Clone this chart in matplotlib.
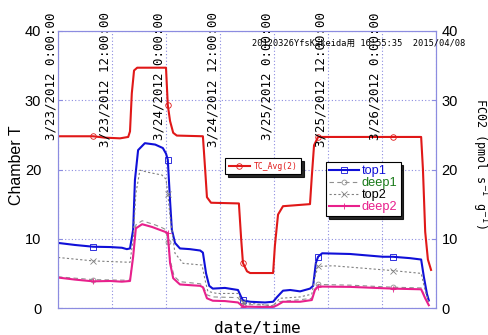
import matplotlib
matplotlib.use("Agg")
import matplotlib.pyplot as plt
import matplotlib.transforms as mtransforms
import numpy as np
import pandas as pd

# hours after 3/23/2012 0:00 and readings for each channel
tc_h = [0, 7.8, 10.4, 13.8, 15.6, 16.0, 16.4, 16.9, 17.6, 24.0, 24.4, 24.9, 25.6, 26.4,
        32.2, 32.7, 33.1, 34.0, 40.2, 40.7, 41.1, 42.0, 42.7, 47.8, 48.2, 48.9, 50.0,
        56.0, 56.4, 56.9, 57.8, 74.4, 80.7, 81.1, 81.6, 82.2, 82.9]
tc_avg = [24.8, 24.8, 24.6, 24.5, 24.7, 25.5, 31.0, 34.3, 34.7, 34.7, 29.3, 27.0, 25.3, 24.9,
          24.8, 20.0, 16.0, 15.2, 15.1, 10.0, 6.5, 5.3, 5.05, 5.05, 9.0, 13.5, 14.7,
          15.0, 19.0, 23.5, 24.7, 24.7, 24.7, 20.0, 11.0, 7.0, 5.5]

top1_h = [0, 3.8, 7.8, 11.6, 14.2, 15.3, 16.0, 16.7, 17.1, 17.8, 19.3, 21.6, 23.3, 24.0,
          24.4, 24.9, 25.3, 26.0, 27.1, 29.3, 31.6, 32.2, 32.9, 33.6, 34.4, 37.1, 40.0,
          40.7, 41.1, 42.7, 46.0, 47.8, 48.7, 50.0, 51.6, 53.8, 56.0, 56.7, 57.3, 57.8,
          58.7, 64.9, 72.2, 74.4, 78.2, 80.7, 81.3, 82.0, 82.4]
top1 = [9.4, 9.1, 8.85, 8.8, 8.7, 8.5, 8.6, 11.3, 18.5, 22.8, 23.8, 23.6, 23.1, 22.3,
        21.4, 15.5, 11.3, 9.4, 8.6, 8.5, 8.3, 8.0, 5.0, 3.2, 2.8, 2.9, 2.6,
        1.6, 1.1, 0.9, 0.8, 0.9, 1.6, 2.5, 2.6, 2.4, 2.8, 3.2, 6.5, 7.4,
        7.9, 7.8, 7.4, 7.4, 7.2, 7.0, 4.5, 2.0, 1.1]

deep1_h = [0, 7.8, 16.0, 16.7, 17.3, 18.7, 21.6, 23.1, 24.0, 24.4, 24.9, 25.8, 27.1, 31.6,
           32.2, 33.1, 34.4, 40.0, 41.1, 47.8, 48.9, 53.8, 56.4, 57.1, 57.8, 64.9, 74.4,
           80.7, 81.6, 82.4]
deep1 = [4.5, 4.1, 4.0, 7.8, 12.0, 12.6, 12.0, 11.6, 11.3, 9.5, 7.0, 4.6, 3.8, 3.5,
         3.2, 1.9, 1.6, 1.5, 0.5, 0.4, 0.9, 1.2, 1.4, 2.9, 3.4, 3.3, 3.0,
         2.9, 1.5, 0.5]

top2_h = [0, 7.8, 16.0, 16.7, 17.3, 18.2, 20.0, 23.1, 24.0, 24.4, 24.9, 26.0, 27.8, 32.0,
          32.7, 33.3, 35.3, 40.0, 40.7, 41.1, 47.8, 49.3, 53.8, 56.4, 57.1, 57.8, 61.1,
          74.4, 80.7, 81.6, 82.4]
top2 = [7.3, 6.8, 6.6, 10.0, 16.5, 19.9, 19.6, 19.2, 18.6, 16.5, 13.2, 7.9, 6.45, 6.2,
        4.0, 2.4, 2.1, 2.1, 1.2, 0.8, 0.3, 1.4, 1.6, 2.0, 4.5, 6.0, 6.1,
        5.4, 5.0, 2.5, 0.9]

deep2_h = [0, 3.8, 7.8, 11.6, 14.2, 16.0, 16.7, 17.3, 18.7, 20.9, 23.8, 24.4, 24.9, 25.6,
           27.1, 31.6, 32.2, 33.1, 34.4, 37.1, 40.0, 41.1, 44.9, 47.8, 48.7, 50.0, 53.8,
           56.4, 57.1, 57.8, 64.9, 74.4, 80.7, 81.6, 82.4]
deep2 = [4.4, 4.1, 3.85, 3.9, 3.8, 3.9, 7.4, 11.5, 12.1, 11.7, 11.0, 10.8, 6.5, 4.3,
         3.4, 3.2, 3.0, 1.4, 1.05, 1.0, 0.8, 0.2, 0.15, 0.15, 0.4, 0.9, 0.9,
         1.15, 2.6, 3.1, 3.05, 2.8, 2.7, 1.4, 0.4]

mark_h = [7.8, 24.4, 41.1, 57.8, 74.4]
tick_hours = [0, 12, 24, 36, 48, 60, 72, 84]

start = pd.Timestamp("2012-03-23 00:00")


def to_time(hours):
    return start + pd.to_timedelta(np.asarray(hours, dtype=float), unit="h")


def marks(hours):
    hours = np.asarray(hours)
    return [i for i, h in enumerate(hours) if np.any(np.isclose(h, mark_h))]


frame_c = "#8c8ce0"
num_font = ["Liberation Sans Narrow", "Liberation Sans", "DejaVu Sans"]

fig = plt.figure(figsize=(4.89, 3.35), dpi=100)
ax = fig.add_axes([58 / 489, 1 - 308 / 335, 378 / 489, 277 / 335])
ax2 = ax.twinx()

l_tc, = ax.plot(to_time(tc_h), tc_avg, color="#e01818", lw=1.5, marker="o", ms=4,
                mfc="none", mew=0.6, markevery=marks(tc_h), label="TC_Avg(2)")
l1, = ax2.plot(to_time(top1_h), top1, color="#1010d8", lw=1.5, marker="s", ms=4,
               mfc="none", mew=0.6, markevery=marks(top1_h), label="top1")
l2, = ax2.plot(to_time(deep1_h), deep1, color="#909090", lw=0.8, ls=(0, (4, 3)), marker="o",
               ms=3.5, mfc="none", mew=0.6, markevery=marks(deep1_h), label="deep1")
l3, = ax2.plot(to_time(top2_h), top2, color="#808080", lw=0.8, ls=(0, (2, 2)), marker="x",
               ms=4, mew=0.6, markevery=marks(top2_h), label="top2")
l4, = ax2.plot(to_time(deep2_h), deep2, color="#e8208c", lw=1.5, marker="+", ms=4,
               mew=0.6, markevery=marks(deep2_h), label="deep2")

xmin, xmax = to_time([0, 84])
for a in (ax, ax2):
    a.set_xlim(xmin, xmax)
    a.set_ylim(0, 40)
    a.set_yticks([0, 10, 20, 30, 40])
    for s in a.spines.values():
        s.set_color(frame_c)
        s.set_linewidth(0.8)

ax.set_xticks(to_time(tick_hours))
ax.set_xticklabels([])
ax.tick_params(axis="x", length=0)
ax.grid(True, color=frame_c, ls=(0, (1, 2)), lw=0.8)
ax.tick_params(axis="y", direction="in", length=3, color=frame_c, pad=12, labelsize=10.5)
ax2.tick_params(axis="y", direction="in", length=3, color=frame_c, pad=4, labelsize=10.5)
for lab in ax.get_yticklabels() + ax2.get_yticklabels():
    lab.set_family(num_font)

# time labels printed along the top edge, reading upwards
trans = mtransforms.blended_transform_factory(ax.transData, fig.transFigure)
for h in tick_hours[:-1]:
    t = start + pd.Timedelta(hours=h)
    txt = f"{t.month}/{t.day}/{t.year} {t.hour}:00:00"
    ax.text(t, 1 - 12 / 335, txt, transform=trans, rotation=90, ha="right", va="top",
            family="DejaVu Sans Mono", fontsize=9, color="black", clip_on=False)

fig.text(252 / 489, 1 - 43 / 335, "20120326YfsKakeida用 16:55:35  2015/04/08",
         family=["DejaVu Sans Mono", "Noto Sans CJK JP"], fontsize=6.2, va="center")

fig.text(17 / 489, 1 - 165 / 335, "Chamber T", rotation=90, ha="center", va="center",
         family=num_font, fontsize=11.5)
fig.text(480 / 489, 1 - 163 / 335, "FC02 (pmol s$^{-1}$ g$^{-1}$)", rotation=270,
         ha="center", va="center", family="DejaVu Sans Mono", fontsize=8.5)
fig.text(257 / 489, 1 - 328 / 335, "date/time", ha="center", va="center",
         family="DejaVu Sans Mono", fontsize=11.5)

shadow = {"color": "black", "alpha": 0.85}
leg1 = ax2.legend(handles=[l_tc], loc="upper left", bbox_to_anchor=(225 / 489, 1 - 158 / 335),
                  bbox_transform=fig.transFigure, fancybox=False, shadow=shadow,
                  edgecolor="black", framealpha=1, handlelength=2.6, handletextpad=0.5,
                  borderpad=0.45, borderaxespad=0, prop={"family": "DejaVu Sans Mono", "size": 5.8})
leg1.get_frame().set_linewidth(0.8)
for t in leg1.get_texts():
    t.set_color("#e01818")
ax2.add_artist(leg1)

leg2 = ax2.legend(handles=[l1, l2, l3, l4], loc="upper left",
                  bbox_to_anchor=(326 / 489, 1 - 162 / 335), bbox_transform=fig.transFigure,
                  fancybox=False, shadow=shadow, edgecolor="black", framealpha=1,
                  handlelength=2.3, handletextpad=0.25, borderpad=0.25, labelspacing=0.0,
                  borderaxespad=0, prop={"family": num_font, "size": 9.2})
leg2.get_frame().set_linewidth(0.8)
for t, c in zip(leg2.get_texts(), ["#1010d8", "#1a7a1a", "black", "#e8208c"]):
    t.set_color(c)

fig.savefig("out.png", dpi=100)
